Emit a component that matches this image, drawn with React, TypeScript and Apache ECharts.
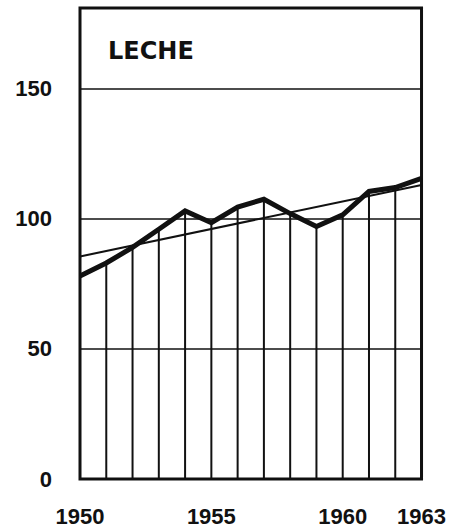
import React, { useEffect, useRef } from "react";
import * as echarts from "echarts";

const years = [1950, 1951, 1952, 1953, 1954, 1955, 1956, 1957, 1958, 1959, 1960, 1961, 1962, 1963];
const milk = [78, 83, 89, 96, 103, 98.5, 104.5, 107.5, 102, 97, 101.5, 110.5, 112, 115.5];
const trendYears = [1950, 1963];
const trendValues = [85.5, 113];
const yTicks = [0, 50, 100, 150];
const xLabelYears = [1950, 1955, 1960, 1963];
const title = "LECHE";

export default function App() {
  const ref = useRef<HTMLDivElement>(null);
  useEffect(() => {
    if (!ref.current) return;
    const chart = echarts.init(ref.current, null, { renderer: "svg" });
    const font = "'Liberation Sans', Arial, sans-serif";
    chart.setOption({
      animation: false,
      backgroundColor: "#ffffff",
      grid: {
        left: 80,
        right: 25,
        top: 8,
        bottom: 51,
        show: true,
        borderColor: "#111",
        borderWidth: 3,
        backgroundColor: "transparent",
      },
      graphic: [
        {
          type: "text",
          left: 108,
          top: 39,
          style: {
            text: title,
            font: "bold 24px 'DejaVu Sans', sans-serif",
            fill: "#111",
          },
        },
      ],
      xAxis: {
        type: "value",
        min: 1950,
        max: 1963,
        interval: 1,
        axisLine: { show: false },
        axisTick: { show: false },
        splitLine: { show: false },
        axisLabel: {
          margin: 26,
          color: "#111",
          fontFamily: font,
          fontWeight: "bold",
          fontSize: 22,
          showMinLabel: true,
          showMaxLabel: true,
          formatter: (v: number) => (xLabelYears.includes(v) ? String(v) : ""),
        },
      },
      yAxis: {
        type: "value",
        min: 0,
        max: 181,
        interval: 50,
        axisLine: { show: false },
        axisTick: { show: false },
        splitLine: { show: true, lineStyle: { color: "#111", width: 1.5 } },
        axisLabel: {
          margin: 28,
          color: "#111",
          fontFamily: font,
          fontWeight: "bold",
          fontSize: 22,
          showMaxLabel: false,
          formatter: (v: number) => (yTicks.includes(v) ? String(v) : ""),
        },
      },
      series: [
        {
          type: "bar",
          data: years.map((y, i) => [y, milk[i]]),
          barWidth: 2,
          itemStyle: { color: "#111" },
          z: 1,
        },
        {
          type: "line",
          data: trendYears.map((y, i) => [y, trendValues[i]]),
          symbol: "none",
          lineStyle: { color: "#111", width: 2 },
          z: 2,
        },
        {
          type: "line",
          data: years.map((y, i) => [y, milk[i]]),
          symbol: "none",
          lineStyle: { color: "#111", width: 5, join: "miter" },
          z: 3,
        },
      ],
    });
    return () => chart.dispose();
  }, []);
  return (
    <div
      ref={ref}
      style={{ position: "fixed", left: 0, top: 0, width: 449, height: 530 }}
    />
  );
}
